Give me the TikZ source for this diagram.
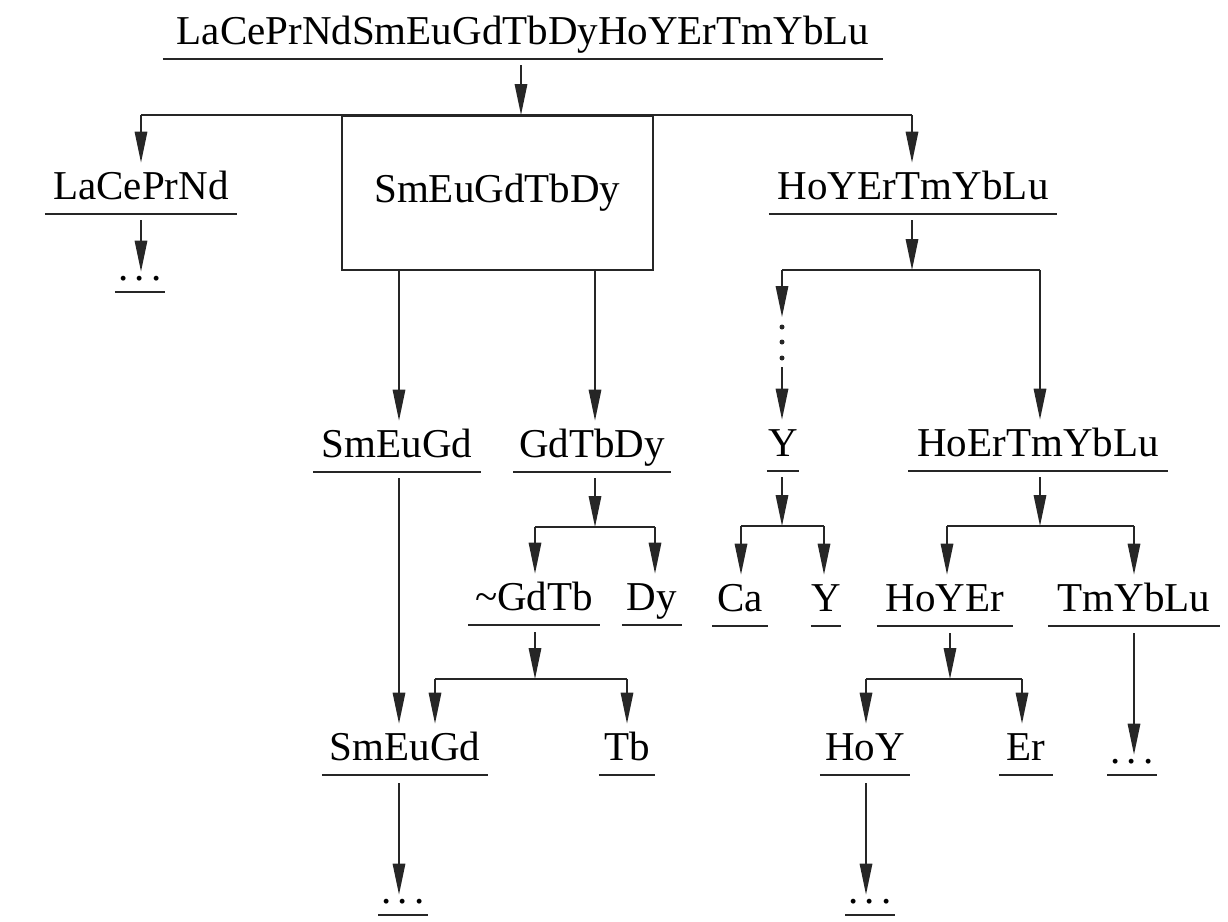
\documentclass[tikz,border=0pt]{standalone}
\usepackage{fontspec}
\setmainfont{Liberation Serif}
\usetikzlibrary{arrows.meta}
\tikzset{
  uline/.style={draw, line width=2.4pt, black!85},
  ln/.style={draw, line width=1.6pt, black!85},
  arr/.style={ln, -{Triangle[length=31pt,width=12.5pt]}, shorten >=4pt},
  lab/.style={minimum width=#1, inner xsep=0pt, inner ysep=4pt, text height=29pt, text depth=10pt, anchor=south,
    append after command={(\tikzlastnode.south west) edge[uline] (\tikzlastnode.south east)}},
  dts/.style={lab=#1, text height=5pt, text depth=7pt},
}
\newcommand{\mydots}{.\hspace{6pt}.\hspace{6pt}.}
\begin{document}
\begin{tikzpicture}[x=1pt,y=-1pt,font=\fontsize{41}{49}\selectfont]
\useasboundingbox[fill=white] (0,0) rectangle (1228,921);
% nodes
\node[lab=720pt] (top) at (523,59) {LaCePrNdSmEuGdTbDyHoYErTmYbLu};
\node[lab=192pt] (lacepr) at (141,214) {LaCePrNd};
\node[dts=50pt] (dots1) at (140,292) {\mydots};
\node[lab=288pt] (hoy6) at (913,214) {HoYErTmYbLu};
\node[draw, line width=1.6pt, black!85, text=black, minimum width=311pt, minimum height=154pt, anchor=north west, inner sep=0pt] (box) at (341,115) {SmEuGdTbDy};
\node[lab=167pt] (smeugd1) at (397,472) {SmEuGd};
\node[lab=157pt] (gdtbdy) at (592,472) {GdTbDy};
\node[lab=32pt] (y1) at (783,471) {Y};
\node[lab=259pt] (hoer) at (1038,471) {HoErTmYbLu};
\node[lab=131pt] (gdtb) at (534,625) {\textasciitilde GdTb};
\node[lab=60pt] (dy) at (652,625) {Dy};
\node[lab=55pt] (ca) at (740,626) {Ca};
\node[lab=30pt] (y2) at (826,626) {Y};
\node[lab=136pt] (hoyer) at (945,626) {HoYEr};
\node[lab=172pt] (tmyblu) at (1134,626) {TmYbLu};
\node[lab=166pt] (smeugd2) at (405,775) {SmEuGd};
\node[lab=56pt] (tb) at (627,775) {Tb};
\node[lab=90pt] (hoy) at (865,775) {HoY};
\node[lab=53pt] (er) at (1026,775) {Er};
\node[dts=49pt] (dots3) at (1132,775) {\mydots};
\node[dts=49pt] (dots2) at (403,915) {\mydots};
\node[dts=49pt] (dots4) at (870,915) {\mydots};
% junction coordinates
\coordinate (j0) at (521,115);
\coordinate (hL) at (141,115);
\coordinate (hR) at (912,115);
\coordinate (b1) at (399,269);
\coordinate (b2) at (595,269);
\coordinate (j1) at (912,270);
\coordinate (j1L) at (782,270);
\coordinate (j1R) at (1040,270);
\coordinate (yd1) at (782,317);
\coordinate (yd2) at (782,367);
\coordinate (j3) at (595,527);
\coordinate (j3L) at (535,527);
\coordinate (j3R) at (655,527);
\coordinate (j4) at (782,526);
\coordinate (j4L) at (741,526);
\coordinate (j4R) at (824,526);
\coordinate (j5) at (1040,526);
\coordinate (j5L) at (947,526);
\coordinate (j5R) at (1134,526);
\coordinate (j6) at (535,679);
\coordinate (j6L) at (435,679);
\coordinate (j6R) at (627,679);
\coordinate (j7) at (950,679);
\coordinate (j7L) at (866,679);
\coordinate (j7R) at (1022,679);
% connectors
\draw[arr, shorten <=6pt, shorten >=0pt] (top.south -| j0) -- (j0);
\draw[ln] (hL) -- (hR);
\draw[arr] (hL) -- (hL |- lacepr.north);
\draw[arr] (hR) -- (hR |- hoy6.north);
\draw[arr, shorten <=6pt, shorten >=0pt] (lacepr.south -| hL) -- (hL |- dots1.north);
\draw[arr, shorten <=6pt, shorten >=0pt] (hoy6.south -| j1) -- (j1);
\draw[ln] (j1L) -- (j1R);
\draw[arr] (b1) -- (b1 |- smeugd1.north);
\draw[arr] (b2) -- (b2 |- gdtbdy.north);
\draw[arr, shorten >=0pt] (j1L) -- (yd1);
\fill[black!85] (782,327) circle (2.5pt) (782,342) circle (2.5pt) (782,358) circle (2.5pt);
\draw[arr] (yd2) -- (yd2 |- y1.north);
\draw[arr] (j1R) -- (j1R |- hoer.north);
% GdTbDy split
\draw[arr, shorten <=6pt, shorten >=0pt] (gdtbdy.south -| j3) -- (j3);
\draw[ln] (j3L) -- (j3R);
\draw[arr] (j3L) -- (j3L |- gdtb.north);
\draw[arr] (j3R) -- (j3R |- dy.north);
% Y split
\draw[arr, shorten <=6pt, shorten >=0pt] (y1.south -| j4) -- (j4);
\draw[ln] (j4L) -- (j4R);
\draw[arr] (j4L) -- (j4L |- ca.north);
\draw[arr] (j4R) -- (j4R |- y2.north);
% HoErTmYbLu split
\draw[arr, shorten <=6pt, shorten >=0pt] (hoer.south -| j5) -- (j5);
\draw[ln] (j5L) -- (j5R);
\draw[arr] (j5L) -- (j5L |- hoyer.north);
\draw[arr] (j5R) -- (j5R |- tmyblu.north);
% ~GdTb split
\draw[arr, shorten <=7pt, shorten >=0pt] (gdtb.south -| j6) -- (j6);
\draw[ln] (j6L) -- (j6R);
\draw[arr] (j6L) -- (j6L |- smeugd2.north);
\draw[arr] (j6R) -- (j6R |- tb.north);
% SmEuGd long
\draw[arr, shorten <=6pt] (smeugd1.south -| b1) -- (b1 |- smeugd2.north);
\draw[arr, shorten <=8pt, shorten >=0pt] (smeugd2.south -| b1) -- (b1 |- dots2.north);
% HoYEr split
\draw[arr, shorten <=7pt, shorten >=0pt] (hoyer.south -| j7) -- (j7);
\draw[ln] (j7L) -- (j7R);
\draw[arr] (j7L) -- (j7L |- hoy.north);
\draw[arr] (j7R) -- (j7R |- er.north);
\draw[arr, shorten <=7pt, shorten >=0pt] (tmyblu.south -| j5R) -- (j5R |- dots3.north);
\draw[arr, shorten <=8pt, shorten >=0pt] (hoy.south -| j7L) -- (j7L |- dots4.north);
\end{tikzpicture}
\end{document}
